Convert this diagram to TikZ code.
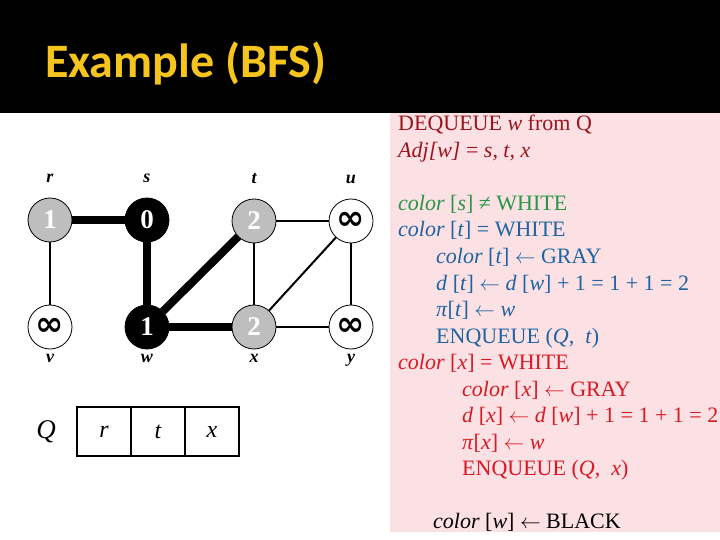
\documentclass[tikz,border=0pt]{standalone}
\usepackage{fontspec}
\setmainfont{Liberation Serif}
\newfontfamily\titlefont{Carlito}
\newfontfamily\infinityfont{DejaVu Sans}
\usetikzlibrary{positioning}
\definecolor{titleyellow}{RGB}{245,196,30}
\definecolor{panelpink}{RGB}{251,224,228}
\definecolor{vgray}{RGB}{190,190,190}
\definecolor{codedarkred}{RGB}{155,20,30}
\definecolor{codegreen}{RGB}{40,150,70}
\definecolor{codeblue}{RGB}{30,100,160}
\definecolor{codered}{RGB}{215,25,35}
\newcommand{\infmark}{{\infinityfont\bfseries ∞}}
\newcommand{\assignarrow}{$\leftarrow$}
\tikzset{vertex/.style={circle, draw=black, line width=0.8bp, minimum size=44bp, inner sep=0pt, font=\fontsize{27bp}{27bp}\selectfont\bfseries}}
\tikzset{gray vertex/.style={vertex, fill=vgray, text=white}}
\tikzset{black vertex/.style={vertex, fill=black, text=white}}
\tikzset{white vertex/.style={vertex, fill=white, text=black, font=\fontsize{34bp}{34bp}\selectfont}}
\tikzset{vertex name/.style={inner sep=0pt, text height=1.6ex, text depth=0pt, font=\fontsize{18bp}{18bp}\selectfont\bfseries\itshape}}
\tikzset{tree edge/.style={line width=8bp}}
\tikzset{graph edge/.style={line width=2bp}}
\tikzset{queue cell/.style={draw=black, line width=2.5bp, minimum width=54bp, minimum height=49bp, outer sep=0pt, inner sep=0pt, font=\fontsize{24bp}{24bp}\selectfont\itshape}}
\tikzset{code line/.style={anchor=base west, inner sep=0pt, font=\fontsize{22bp}{22bp}\selectfont}}

\begin{document}
\begin{tikzpicture}[x=1bp, y=-1bp]
\useasboundingbox (0,0) rectangle (720,540);
\fill[white] (0,0) rectangle (720,540);
\fill[black] (0,0) rectangle (720,113);
\fill[panelpink] (390,113) rectangle (720,532);
\node[anchor=base west, inner sep=0pt, text=titleyellow, font=\titlefont\bfseries\fontsize{48bp}{48bp}\selectfont] (title) at (45,78) {Example (BFS)};

% vertices
\node[gray vertex] (r) at (50,220) {1};
\node[black vertex] (s) at (147,220) {0};
\node[gray vertex] (t) at (254,221) {2};
\node[white vertex] (u) at (351,221) {\infmark};
\node[white vertex] (v) at (50,327) {\infmark};
\node[black vertex] (w) at (147,327) {1};
\node[gray vertex] (x) at (254,327) {2};
\node[white vertex] (y) at (351,327) {\infmark};
\node[vertex name, above=15bp of r] (r name) {r};
\node[vertex name, above=15bp of s] (s name) {s};
\node[vertex name, above=15bp of t] (t name) {t};
\node[vertex name, above=15bp of u] (u name) {u};
\node[vertex name, below=6bp of v] (v name) {v};
\node[vertex name, below=6bp of w] (w name) {w};
\node[vertex name, below=6bp of x] (x name) {x};
\node[vertex name, below=6bp of y] (y name) {y};

% edges
\draw[tree edge] (r) -- (s);
\draw[tree edge] (s) -- (w);
\draw[tree edge] (w) -- (t);
\draw[tree edge] (w) -- (x);
\draw[graph edge] (r) -- (v);
\draw[graph edge] (t) -- (u);
\draw[graph edge] (t) -- (x);
\draw[graph edge] (x) -- (u);
\draw[graph edge] (u) -- (y);
\draw[graph edge] (x) -- (y);

% queue
\node[font=\fontsize{27bp}{27bp}\selectfont\itshape] (Q) at (46,432) {Q};
\node[queue cell] (q1) at (104,431.5) {r};
\node[queue cell, right=0pt of q1] (q2) {t};
\node[queue cell, right=0pt of q2] (q3) {x};

% pseudo code
\node[code line, text=codedarkred] (l1) at (398,131) {DEQUEUE \textit{w} from Q};
\node[code line, text=codedarkred] (l2) at (398,157.5) {\textit{Adj[w]} = \textit{s, t, x}};
\node[code line, text=codegreen] (l4) at (398,210.5) {\textit{color} [\textit{s}] ≠ WHITE};
\node[code line, text=codeblue] (l5) at (398,237) {\textit{color} [\textit{t}] = WHITE};
\node[code line, text=codeblue] (l6) at (436,263.5) {\textit{color} [\textit{t}] \assignarrow{} GRAY};
\node[code line, text=codeblue] (l7) at (436,290) {\textit{d} [\textit{t}] \assignarrow{} \textit{d} [\textit{w}] + 1 = 1 + 1 = 2};
\node[code line, text=codeblue] (l8) at (436,316.5) {\textit{π}[\textit{t}] \assignarrow{} \textit{w}};
\node[code line, text=codeblue] (l9) at (436,343) {ENQUEUE (\textit{Q}, \ \textit{t})};
\node[code line, text=codered] (l10) at (398,369.5) {\textit{color} [\textit{x}] = WHITE};
\node[code line, text=codered] (l11) at (462,396) {\textit{color} [\textit{x}] \assignarrow{} GRAY};
\node[code line, text=codered] (l12) at (462,422.5) {\textit{d} [\textit{x}] \assignarrow{} \textit{d} [\textit{w}] + 1 = 1 + 1 = 2};
\node[code line, text=codered] (l13) at (462,449) {\textit{π}[\textit{x}] \assignarrow{} \textit{w}};
\node[code line, text=codered] (l14) at (462,475.5) {ENQUEUE (\textit{Q}, \ \textit{x})};
\node[code line, text=black] (l16) at (433,528) {\textit{color} [\textit{w}] \assignarrow{} BLACK};
\end{tikzpicture}
\end{document}
